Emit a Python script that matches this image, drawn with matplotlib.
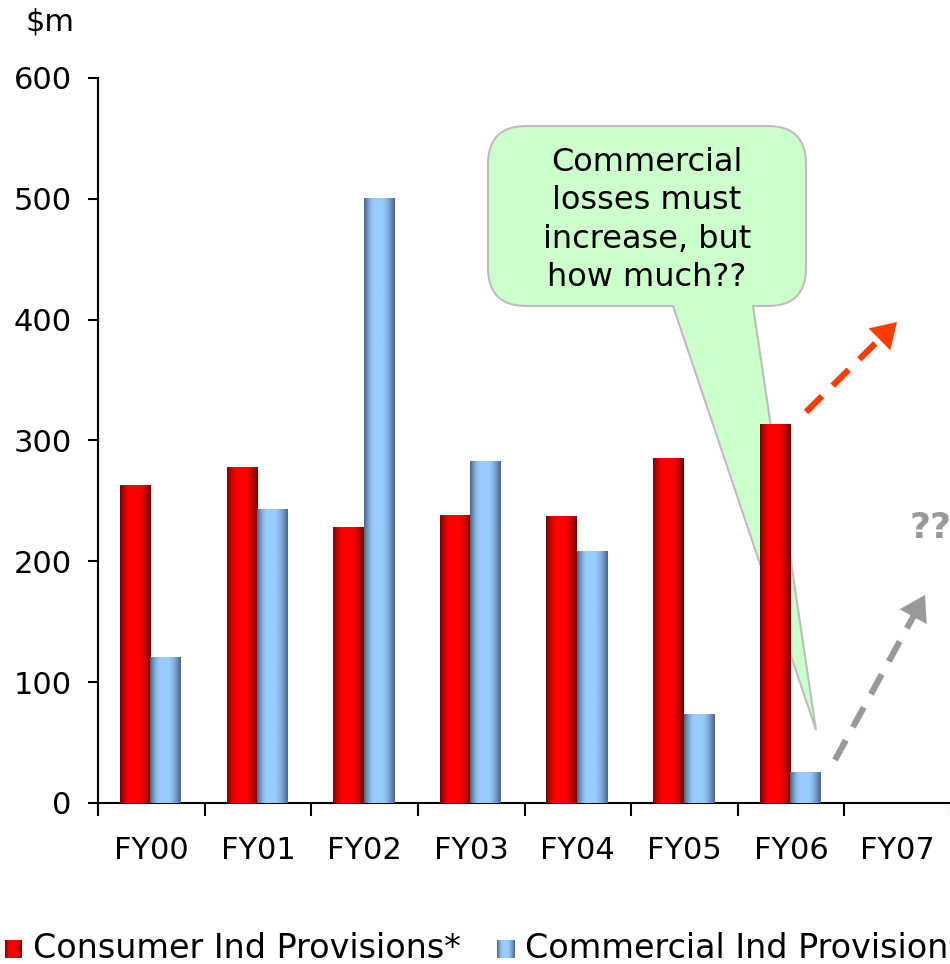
import matplotlib
matplotlib.use("Agg")
import matplotlib.pyplot as plt
import numpy as np
from matplotlib.path import Path
from matplotlib.patches import PathPatch, FancyArrowPatch
from matplotlib.transforms import Affine2D

# data ($m)
years = ["FY00", "FY01", "FY02", "FY03", "FY04", "FY05", "FY06", "FY07"]
consumer = [263, 278, 228, 238, 237, 285, 313]
commercial = [120, 243, 500, 283, 208, 73, 25]
yticks = [0, 100, 200, 300, 400, 500, 600]

plt.rcParams['font.family'] = ['DejaVu Sans']
W, H = 950, 964
fig = plt.figure(figsize=(W / 100, H / 100), dpi=100)
ax = fig.add_axes([98 / W, 1 - 803 / H, 853 / W, (803 - 78) / H])

red_dark, red_light = np.array([0.45, 0.0, 0.0]), np.array([1.0, 0.0, 0.0])
blue_dark, blue_light = np.array([0.29, 0.40, 0.53]), np.array([0.60, 0.80, 1.0])


def gradient(dark, light, n=64):
    t = np.linspace(0, 1, n)
    f = np.where(t < 0.35, t / 0.35, np.where(t < 0.55, 1.0, 1 - (t - 0.55) / 0.45))
    f = np.sin(np.clip(f, 0, 1) * np.pi / 2)
    return (dark[None, :] + (light - dark)[None, :] * f[:, None])[None, :, :]


bw = 0.286
for i, (c, m) in enumerate(zip(consumer, commercial)):
    ax.imshow(gradient(red_dark, red_light), extent=(i + 0.206, i + 0.206 + bw, 0, c),
              aspect='auto', zorder=3, interpolation='bilinear')
    ax.imshow(gradient(blue_dark, blue_light), extent=(i + 0.492, i + 0.492 + bw, 0, m),
              aspect='auto', zorder=3, interpolation='bilinear')

ax.set_xlim(0, len(years))
ax.set_ylim(0, 600)
ax.set_yticks(yticks)
ax.set_xticks(np.arange(len(years) + 1))
ax.set_xticklabels([])
ax.set_xticks(np.arange(len(years)) + 0.5, minor=True)
ax.set_xticklabels(years, minor=True)
ax.tick_params(axis='x', which='major', direction='out', length=9, width=1.5)
ax.tick_params(axis='x', which='minor', length=0, pad=24, labelsize=22)
ax.tick_params(axis='y', direction='out', length=7, width=1.5, pad=12, labelsize=22)
for s in ['top', 'right']:
    ax.spines[s].set_visible(False)
for s in ['left', 'bottom']:
    ax.spines[s].set_linewidth(1.5)

# speech bubble, drawn in figure pixels (y down), behind the bars
pix = Affine2D().scale(1 / W, -1 / H).translate(0, 1) + fig.transFigure
x0, x1, y0, y1, r = 488, 806, 126, 306, 38
verts = [(x0 + r, y0), (x1 - r, y0), (x1, y0), (x1, y0 + r), (x1, y1 - r), (x1, y1), (x1 - r, y1),
         (753, y1), (816, 730), (673, y1), (x0 + r, y1), (x0, y1), (x0, y1 - r),
         (x0, y0 + r), (x0, y0), (x0 + r, y0), (x0 + r, y0)]
codes = [Path.MOVETO, Path.LINETO, Path.CURVE3, Path.CURVE3, Path.LINETO, Path.CURVE3, Path.CURVE3,
         Path.LINETO, Path.LINETO, Path.LINETO, Path.LINETO, Path.CURVE3, Path.CURVE3,
         Path.LINETO, Path.CURVE3, Path.CURVE3, Path.CLOSEPOLY]
bubble = PathPatch(Path(verts, codes), facecolor='#ccffcc', edgecolor='#bdbdbd', lw=1.5,
                   transform=pix, zorder=0.5, clip_on=False)
ax.add_patch(bubble)
fig.text(647 / W, 1 - 220 / H, "Commercial\nlosses must\nincrease, but\nhow much??",
         ha='center', va='center', fontsize=23, linespacing=1.3, zorder=5)

# dashed trend arrows
for (xa, ya), (xb, yb), col in [((806, 412), (897, 322), '#ff3c00'),
                                ((835, 760), (925, 595), '#999999')]:
    L = np.hypot(xb - xa, yb - ya)
    ux, uy = (xb - xa) / L, (yb - ya) / L
    ax.plot([xa, xb - ux * 12], [ya, yb - uy * 12], transform=pix, color=col, lw=4.5,
            linestyle=(0, (3.6, 2.4)), solid_capstyle='butt', dash_capstyle='butt',
            zorder=6, clip_on=False)
    head = FancyArrowPatch((xb - ux * 24, yb - uy * 24), (xb, yb), transform=pix,
                           arrowstyle='-|>,head_length=8,head_width=5', mutation_scale=2.2,
                           color=col, lw=0.1, zorder=6, clip_on=False, shrinkA=0, shrinkB=0)
    ax.add_patch(head)

fig.text(909 / W, 1 - 528 / H, "??", color='#999999', fontsize=26, fontweight='bold',
         ha='left', va='center')
fig.text(25 / W, 1 - 22 / H, "$m", fontsize=22, ha='left', va='center')

# legend
for lx, dark, light, label in [(5, red_dark, red_light, "Consumer Ind Provisions*"),
                               (497, blue_dark, blue_light, "Commercial Ind Provisions")]:
    lax = fig.add_axes([lx / W, 1 - 958 / H, 17 / W, 18 / H])
    lax.imshow(gradient(dark, light), aspect='auto', interpolation='bilinear')
    lax.axis('off')
    fig.text((lx + 28) / W, 1 - 948 / H, label, fontsize=24, ha='left', va='center')

fig.savefig("out.png", dpi=100)
